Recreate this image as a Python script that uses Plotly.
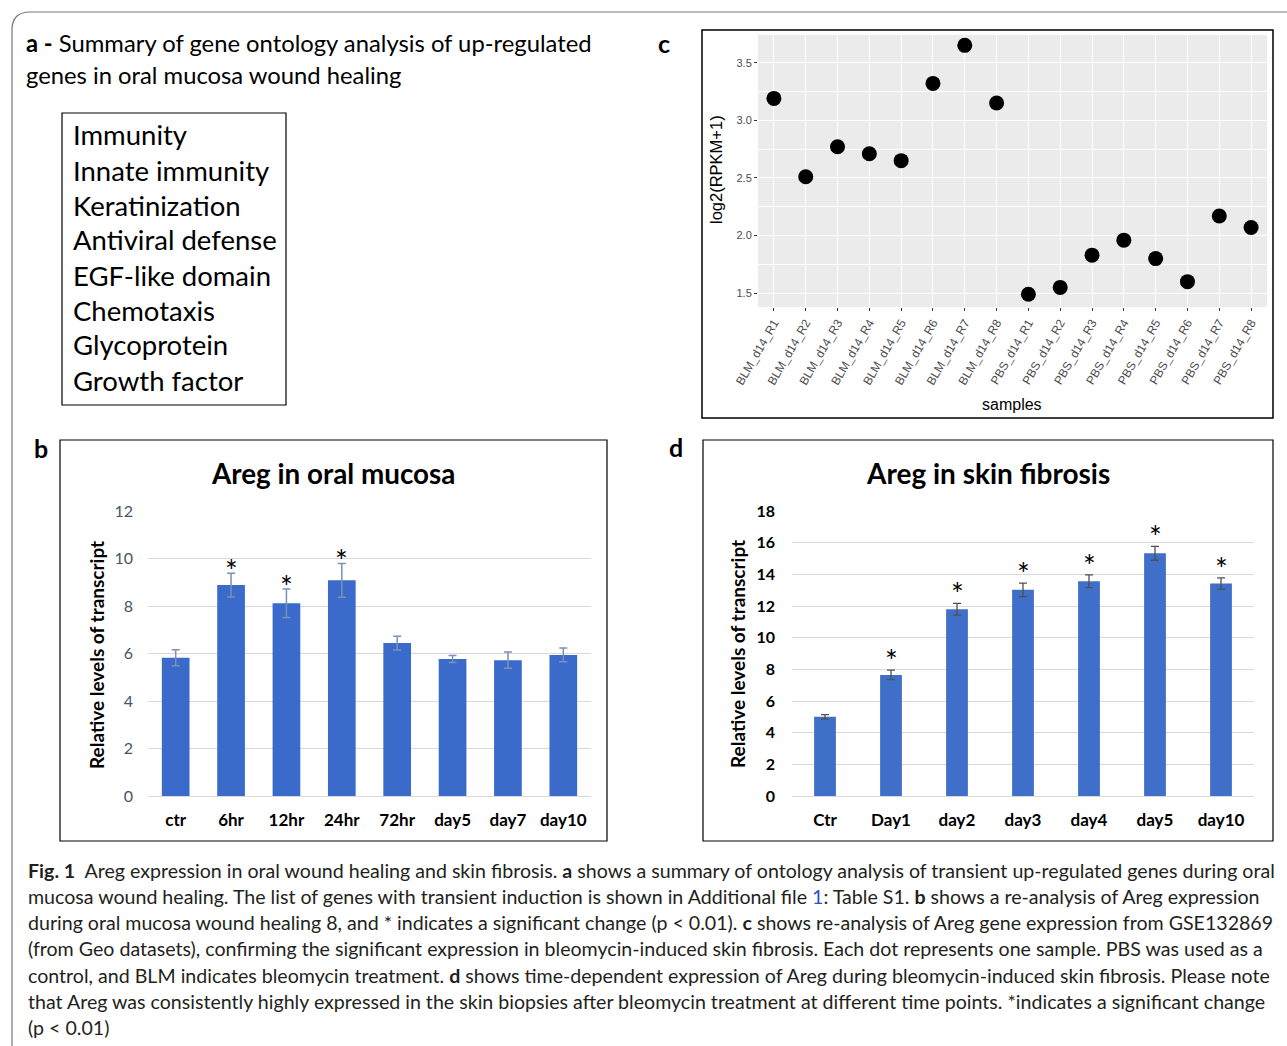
import plotly.graph_objects as go

W, H = 1287, 1046
def px(x): return x / W
def py(y): return 1 - y / H

# ---------------- data ----------------
# panel a
go_terms = ["Immunity", "Innate immunity", "Keratinization", "Antiviral defense",
            "EGF-like domain", "Chemotaxis", "Glycoprotein", "Growth factor"]

# panel b
oral_cats = ["ctr", "6hr", "12hr", "24hr", "72hr", "day5", "day7", "day10"]
oral_vals = [5.82, 8.88, 8.12, 9.08, 6.44, 5.77, 5.72, 5.94]
oral_err = [0.34, 0.50, 0.60, 0.71, 0.29, 0.15, 0.34, 0.29]
oral_sig = [False, True, True, True, False, False, False, False]

# panel c
samples = ["BLM_d14_R1", "BLM_d14_R2", "BLM_d14_R3", "BLM_d14_R4", "BLM_d14_R5",
           "BLM_d14_R6", "BLM_d14_R7", "BLM_d14_R8", "PBS_d14_R1", "PBS_d14_R2",
           "PBS_d14_R3", "PBS_d14_R4", "PBS_d14_R5", "PBS_d14_R6", "PBS_d14_R7",
           "PBS_d14_R8"]
log2_rpkm = [3.19, 2.51, 2.77, 2.71, 2.65, 3.32, 3.65, 3.15,
             1.49, 1.55, 1.83, 1.96, 1.80, 1.60, 2.17, 2.07]
c_yticks = [1.5, 2.0, 2.5, 3.0, 3.5]

# panel d
skin_cats = ["Ctr", "Day1", "day2", "day3", "day4", "day5", "day10"]
skin_vals = [5.00, 7.65, 11.79, 13.02, 13.56, 15.33, 13.42]
skin_err = [0.14, 0.30, 0.37, 0.43, 0.40, 0.44, 0.36]
skin_sig = [False, True, True, True, True, True, True]

caption_lines = [
    "<b>Fig. 1</b>  Areg expression in oral wound healing and skin fibrosis. <b>a</b> shows a summary of ontology analysis of transient up-regulated genes during oral",
    "mucosa wound healing. The list of genes with transient induction is shown in Additional file <span style='color:#2b4fd0'>1</span>: Table S1. <b>b</b> shows a re-analysis of Areg expression",
    "during oral mucosa wound healing 8, and * indicates a significant change (p < 0.01). <b>c</b> shows re-analysis of Areg gene expression from GSE132869",
    "(from Geo datasets), confirming the significant expression in bleomycin-induced skin fibrosis. Each dot represents one sample. PBS was used as a",
    "control, and BLM indicates bleomycin treatment. <b>d</b> shows time-dependent expression of Areg during bleomycin-induced skin fibrosis. Please note",
    "that Areg was consistently highly expressed in the skin biopsies after bleomycin treatment at different time points. *indicates a significant change",
    "(p < 0.01)",
]

CAL = "Lato"
ARIAL = "Liberation Sans"

fig = go.Figure()

# panel b bars
fig.add_trace(go.Bar(
    x=oral_cats, y=oral_vals, xaxis="x", yaxis="y", width=0.5,
    marker=dict(color="#3A6BCB", line=dict(width=0)),
    error_y=dict(type="data", array=oral_err, color="#7C90B4", thickness=1.5, width=4),
))
# panel d bars
fig.add_trace(go.Bar(
    x=skin_cats, y=skin_vals, xaxis="x2", yaxis="y2", width=0.33,
    marker=dict(color="#3F6FC8", line=dict(width=0)),
    error_y=dict(type="data", array=skin_err, color="#505050", thickness=1.3, width=4),
))
# panel c dots
fig.add_trace(go.Scatter(
    x=samples, y=log2_rpkm, xaxis="x3", yaxis="y3", mode="markers",
    marker=dict(color="black", size=15),
))

annotations = []
for c, v, e, s in zip(oral_cats, oral_vals, oral_err, oral_sig):
    if s:
        annotations.append(dict(x=c, y=v + e, xref="x", yref="y", text="*", showarrow=False,
                                yanchor="bottom", yshift=-17, font=dict(family=CAL, size=30, color="black")))
for c, v, e, s in zip(skin_cats, skin_vals, skin_err, skin_sig):
    if s:
        annotations.append(dict(x=c, y=v + e, xref="x2", yref="y2", text="*", showarrow=False,
                                yanchor="bottom", yshift=-10, font=dict(family=CAL, size=30, color="black")))

def ann(x, y, text, size, family=CAL, color="black", xanchor="center", yanchor="middle", angle=0):
    annotations.append(dict(x=px(x), y=py(y), xref="paper", yref="paper", text=text, showarrow=False,
                            xanchor=xanchor, yanchor=yanchor, textangle=angle,
                            font=dict(family=family, size=size, color=color)))

# panel a
ann(24, 43, "<b>a -</b> Summary of gene ontology analysis of up-regulated", 23.8, xanchor="left")
ann(24, 75, "genes in oral mucosa wound healing", 23.8, xanchor="left")
for i, t in enumerate(go_terms):
    ann(71, 135 + i * 35, t, 27.5, xanchor="left")

# panel labels
ann(664, 43, "<b>c</b>", 25)
ann(41, 448, "<b>b</b>", 25)
ann(676, 447, "<b>d</b>", 25)

# titles
ann(333, 473, "<b>Areg in oral mucosa</b>", 27.8)
ann(988, 473, "<b>Areg in skin fibrosis</b>", 28)
ann(96, 655, "<b>Relative levels of transcript</b>", 19, angle=-90)
ann(737, 654, "<b>Relative levels of transcript</b>", 19, angle=-90)
ann(716, 170, "log2(RPKM+1)", 16.5, family=ARIAL, angle=-90)
ann(1012, 404, "samples", 16, family=ARIAL)

# caption
for i, line in enumerate(caption_lines):
    ann(26, 870 + i * 26.3, line, 19.6, color="#231F20", xanchor="left")

shapes = [
    # outer rounded frame
    dict(type="path", xref="paper", yref="paper",
         path=f"M {px(1300)} {py(12)} L {px(30)} {py(12)} Q {px(12)} {py(12)} {px(12)} {py(30)} L {px(12)} {py(1060)}",
         line=dict(color="#777777", width=1.2)),
    dict(type="rect", xref="paper", yref="paper", x0=px(62), x1=px(286), y0=py(113), y1=py(405),
         line=dict(color="black", width=1.2)),
    dict(type="rect", xref="paper", yref="paper", x0=px(702), x1=px(1273), y0=py(30), y1=py(418),
         line=dict(color="black", width=1.5)),
    dict(type="rect", xref="paper", yref="paper", x0=px(60), x1=px(607), y0=py(440), y1=py(841),
         line=dict(color="black", width=1.2)),
    dict(type="rect", xref="paper", yref="paper", x0=px(703), x1=px(1273), y0=py(440), y1=py(841),
         line=dict(color="black", width=1.2)),
    dict(type="rect", xref="x3 domain", yref="y3 domain", x0=0, x1=1, y0=0, y1=1,
         fillcolor="#EBEBEB", line=dict(width=0), layer="below"),
]

fig.update_layout(
    width=W, height=H, autosize=False,
    margin=dict(l=0, r=0, t=0, b=0, pad=0, autoexpand=False),
    paper_bgcolor="white", plot_bgcolor="rgba(0,0,0,0)",
    showlegend=False,
    annotations=annotations, shapes=shapes,
    xaxis=dict(domain=[px(148), px(591)], anchor="y", range=[-0.5, 7.5], showgrid=False,
               automargin=False, ticks="", ticklabelstandoff=12,
               tickfont=dict(family=CAL, size=17, color="black", weight="bold")),
    yaxis=dict(domain=[py(796), py(511)], anchor="x", range=[0, 12], dtick=2,
               automargin=False,
               showgrid=True, gridcolor="#D9D9D9", gridwidth=1, zeroline=True,
               zerolinecolor="#D9D9D9", zerolinewidth=1, ticks="", ticklabelstandoff=14,
               tickfont=dict(family=CAL, size=16, color="#44546A")),
    xaxis2=dict(domain=[px(792), px(1254)], anchor="y2", range=[-0.5, 6.5], showgrid=False,
                automargin=False, ticks="", ticklabelstandoff=12,
                tickfont=dict(family=CAL, size=17, color="black", weight="bold")),
    yaxis2=dict(domain=[py(796), py(511)], anchor="x2", range=[0, 18], dtick=2,
                automargin=False,
                showgrid=True, gridcolor="#D9D9D9", gridwidth=1, zeroline=True,
                zerolinecolor="#D9D9D9", zerolinewidth=1, ticks="", ticklabelstandoff=16,
                tickfont=dict(family=CAL, size=16, color="black", weight="bold")),
    xaxis3=dict(domain=[px(758), px(1267)], anchor="y3", range=[-0.5, 15.5],
                automargin=False,
                showgrid=True, gridcolor="white", gridwidth=1.2, tickangle=-60,
                ticks="outside", ticklen=3, tickcolor="#333333",
                tickfont=dict(family=ARIAL, size=12, color="#4D4D4D")),
    yaxis3=dict(domain=[py(307), py(35)], anchor="x3", range=[1.38, 3.74],
                automargin=False,
                tickvals=c_yticks, ticktext=[f"{v:.1f}" for v in c_yticks],
                showgrid=True, gridcolor="white", gridwidth=1.2, zeroline=False,
                minor=dict(showgrid=True, gridcolor="white", gridwidth=0.5,
                           tickvals=[1.75, 2.25, 2.75, 3.25, 3.75]),
                ticks="outside", ticklen=3, tickcolor="#333333",
                tickfont=dict(family=ARIAL, size=11, color="#4D4D4D")),
)

fig.write_html("out.html", config={"displayModeBar": False},
               post_script="document.body.style.margin='0';")
